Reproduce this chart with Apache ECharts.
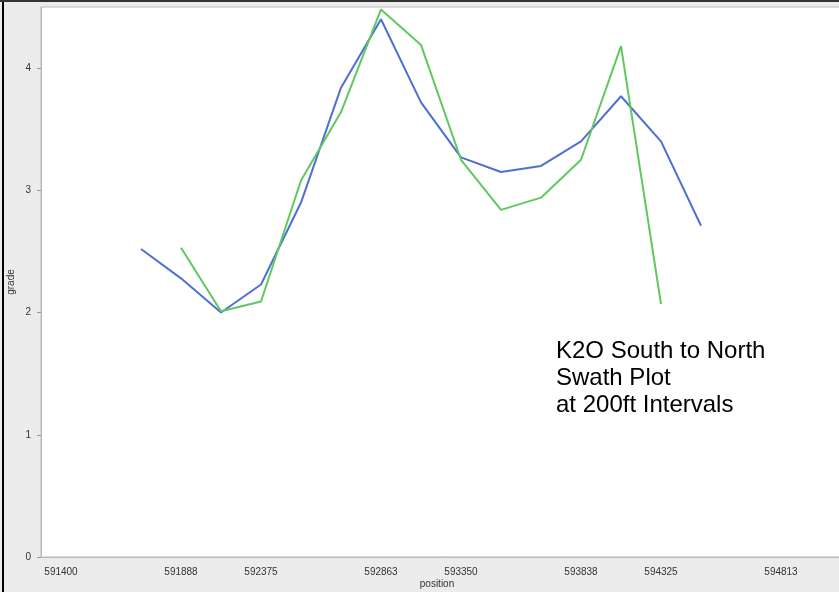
<!DOCTYPE html>
<html>
<head>
<meta charset="utf-8">
<script src="https://cdn.jsdelivr.net/npm/echarts@6/dist/echarts.min.js"></script>
<style>
html, body { margin: 0; padding: 0; background: #ececec; }
#chart { width: 839px; height: 592px; }
</style>
</head>
<body>
<div id="chart"></div>
<script>
// bins along the swath (200ft steps), index based
var bins = ['0','1','2','3','4','5','6','7','8','9','10','11','12','13','14','15','16','17','18','19','20']
// tick labels and the bins they sit on
var tickLabels = ['591400','591888','592375','592863','593350','593838','594325','594813']
var tickBins = [0, 3, 5, 8, 10, 13, 15, 18]

var blueGrade = [null, null, 2.52, 2.28, 2.00, 2.23, 2.90, 3.84, 4.40, 3.72, 3.27, 3.15, 3.20, 3.40, 3.77, 3.40, 2.71, null, null, null, null]
var greenGrade = [null, null, null, 2.53, 2.01, 2.09, 3.08, 3.64, 4.48, 4.19, 3.25, 2.84, 2.94, 3.25, 4.18, 2.07, null, null, null, null, null]

var chart = echarts.init(document.getElementById('chart'))

function isTick(idx) {
    return tickBins.indexOf(idx) !== -1
}

var option = {
    backgroundColor: '#ececec',
    animation: false,
    grid: {
        left: 41,
        top: 7,
        bottom: 35,
        width: 840,
        containLabel: false,
        outerBoundsMode: 'none',
        show: true,
        backgroundColor: '#ffffff',
        borderColor: '#b9b9b9',
        borderWidth: 1
    },
    xAxis: {
        type: 'category',
        data: bins,
        name: 'position',
        nameLocation: 'middle',
        nameGap: 22,
        nameMoveOverlap: false,
        nameTextStyle: { color: '#333', fontSize: 10, fontFamily: 'Liberation Sans', padding: [0, 48, 0, 0] },
        axisLine: { lineStyle: { color: '#b9b9b9' } },
        axisTick: { alignWithLabel: true, interval: function (idx) { return isTick(idx) }, length: 4, lineStyle: { color: '#999' } },
        axisLabel: {
            interval: function (idx) { return isTick(idx) },
            formatter: function (v, idx) { return tickLabels[tickBins.indexOf(idx)] || '' },
            color: '#333',
            fontSize: 10,
            fontFamily: 'Liberation Sans',
            margin: 10
        },
        splitLine: { show: false }
    },
    yAxis: {
        type: 'value',
        min: 0,
        max: 4.5,
        interval: 1,
        name: 'grade',
        nameLocation: 'middle',
        nameGap: 25,
        nameMoveOverlap: false,
        nameTextStyle: { color: '#333', fontSize: 10, fontFamily: 'Liberation Sans' },
        axisLine: { show: true, lineStyle: { color: '#b9b9b9' } },
        axisTick: { show: true, length: 4, lineStyle: { color: '#999' } },
        axisLabel: { showMaxLabel: false, color: '#333', fontSize: 10, fontFamily: 'Liberation Sans', margin: 10 },
        splitLine: { show: false }
    },
    series: [{
        type: 'line',
        data: blueGrade,
        symbol: 'none',
        lineStyle: { color: '#4f6fd3', width: 2 },
        itemStyle: { color: '#4f6fd3' }
    }, {
        type: 'line',
        data: greenGrade,
        symbol: 'none',
        lineStyle: { color: '#5fc95f', width: 2 },
        itemStyle: { color: '#5fc95f' }
    }],
    graphic: [{
        type: 'text',
        left: 556,
        top: 338,
        style: {
            text: 'K2O South to North\nSwath Plot\nat 200ft Intervals',
            fill: '#000',
            font: '24px "Liberation Sans"',
            lineHeight: 27
        }
    }, {
        type: 'rect',
        left: 2,
        top: 0,
        shape: { width: 2, height: 592 },
        style: { fill: '#000' }
    }, {
        type: 'rect',
        left: 0,
        top: 0,
        shape: { width: 839, height: 2 },
        style: { fill: '#333' }
    }]
}

chart.setOption(option)
</script>
</body>
</html>
